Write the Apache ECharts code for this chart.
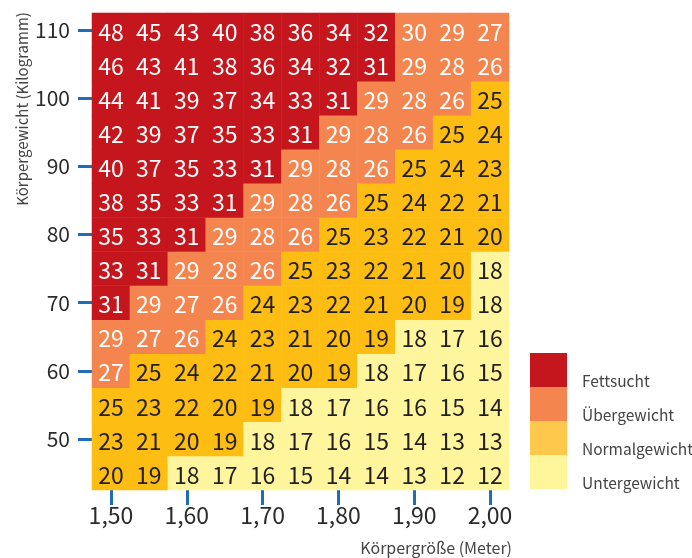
<!DOCTYPE html>
<html><head><meta charset="utf-8">
<script src="https://cdn.jsdelivr.net/npm/echarts@6/dist/echarts.min.js"></script>
<style>html,body{margin:0;padding:0;background:#fff}#c{width:692px;height:558px}</style>
</head><body><div id="c"></div>
<script>
// Categories
const heights = ['1,50','1,55','1,60','1,65','1,70','1,75','1,80','1,85','1,90','1,95','2,00'];
const weights = ['45','50','55','60','65','70','75','80','85','90','95','100','105','110'];
// BMI values per weight row (left to right = heights)
const bmi45  = [20,19,18,17,16,15,14,14,13,12,12];
const bmi50  = [23,21,20,19,18,17,16,15,14,13,13];
const bmi55  = [25,23,22,20,19,18,17,16,16,15,14];
const bmi60  = [27,25,24,22,21,20,19,18,17,16,15];
const bmi65  = [29,27,26,24,23,21,20,19,18,17,16];
const bmi70  = [31,29,27,26,24,23,22,21,20,19,18];
const bmi75  = [33,31,29,28,26,25,23,22,21,20,18];
const bmi80  = [35,33,31,29,28,26,25,23,22,21,20];
const bmi85  = [38,35,33,31,29,28,26,25,24,22,21];
const bmi90  = [40,37,35,33,31,29,28,26,25,24,23];
const bmi95  = [42,39,37,35,33,31,29,28,26,25,24];
const bmi100 = [44,41,39,37,34,33,31,29,28,26,25];
const bmi105 = [46,43,41,38,36,34,32,31,29,28,26];
const bmi110 = [48,45,43,40,38,36,34,32,30,29,27];
// Classes
const classNames = ['Fettsucht','Übergewicht','Normalgewicht','Untergewicht'];
const classMin = [30.5, 25.5, 18.5, -Infinity];
const classMax = [Infinity, 30.5, 25.5, 18.5];
const cellColors = ['#c4161c','#f4854f','#fdbd12','#fff59d'];
const legendColors = ['#c4161c','#f4854f','#fec84c','#fff59b'];

const rows = [bmi45,bmi50,bmi55,bmi60,bmi65,bmi70,bmi75,bmi80,bmi85,bmi90,bmi95,bmi100,bmi105,bmi110];
const FONT = "'Noto Sans CJK SC','Noto Sans',sans-serif";
const data = [];
rows.forEach((row, r) => row.forEach((v, c) => {
  data.push({ value: [c, r, v], label: { color: v > 25.5 ? '#ffffff' : '#231f20' } });
}));
const pieces = classNames.map((n, i) => {
  const p = { color: cellColors[i] };
  if (isFinite(classMin[i])) p.min = classMin[i];
  if (isFinite(classMax[i])) p.max = classMax[i];
  return p;
});
const tickColor = '#1f6db5';
const isTen = (idx, val) => (+val) % 10 === 0;

const chart = echarts.init(document.getElementById('c'));
chart.setOption({
  animation: false,
  grid: { left: 92, top: 13, width: 417, height: 477, containLabel: false, outerBoundsMode: 'none' },
  xAxis: {
    type: 'category', data: heights, splitArea: { show: false },
    axisLine: { show: false },
    axisTick: { show: true, interval: 1, alignWithLabel: true, length: 15, lineStyle: { color: tickColor, width: 3 } },
    axisLabel: { interval: 1, margin: 14, fontSize: 23, color: '#2b2b2b', fontFamily: FONT }
  },
  yAxis: {
    type: 'category', data: weights,
    axisLine: { show: false },
    axisTick: { show: true, interval: isTen, alignWithLabel: true, length: 14, lineStyle: { color: tickColor, width: 3 } },
    axisLabel: { interval: isTen, margin: 22, fontSize: 21, color: '#2b2b2b', fontFamily: FONT }
  },
  visualMap: { show: false, type: 'piecewise', dimension: 2, seriesIndex: 0, pieces: pieces },
  legend: [
    {
      orient: 'vertical', left: 530, top: 353, padding: 0, itemWidth: 37, itemHeight: 34, itemGap: 0,
      icon: 'rect', selectedMode: false, data: classNames, formatter: () => '',
      textStyle: { fontSize: 10 }
    },
    {
      orient: 'vertical', left: 577, top: 364, padding: 0, itemWidth: 0, itemHeight: 34, itemGap: 0,
      icon: 'none', selectedMode: false, data: classNames,
      textStyle: { fontSize: 15.5, lineHeight: 34, color: '#444', fontFamily: FONT }
    }
  ],
  series: [
    {
      type: 'heatmap', data: data,
      label: { show: true, fontSize: 23, fontFamily: FONT, offset: [0, 2] },
      emphasis: { disabled: true },
      itemStyle: { borderWidth: 0 }
    }
  ].concat(classNames.map((n, i) => ({ type: 'bar', name: n, data: [], itemStyle: { color: legendColors[i] } }))),
  graphic: [
    { type: 'text', x: 22, y: 109, rotation: Math.PI / 2,
      style: { text: 'Körpergewicht (Kilogramm)', fontSize: 15, fontFamily: FONT, fill: '#444', align: 'center', verticalAlign: 'middle' } },
    { type: 'text', x: 512, y: 548,
      style: { text: 'Körpergröße (Meter)', fontSize: 16, fontFamily: FONT, fill: '#444', align: 'right', verticalAlign: 'middle' } }
  ]
});
</script></body></html>
